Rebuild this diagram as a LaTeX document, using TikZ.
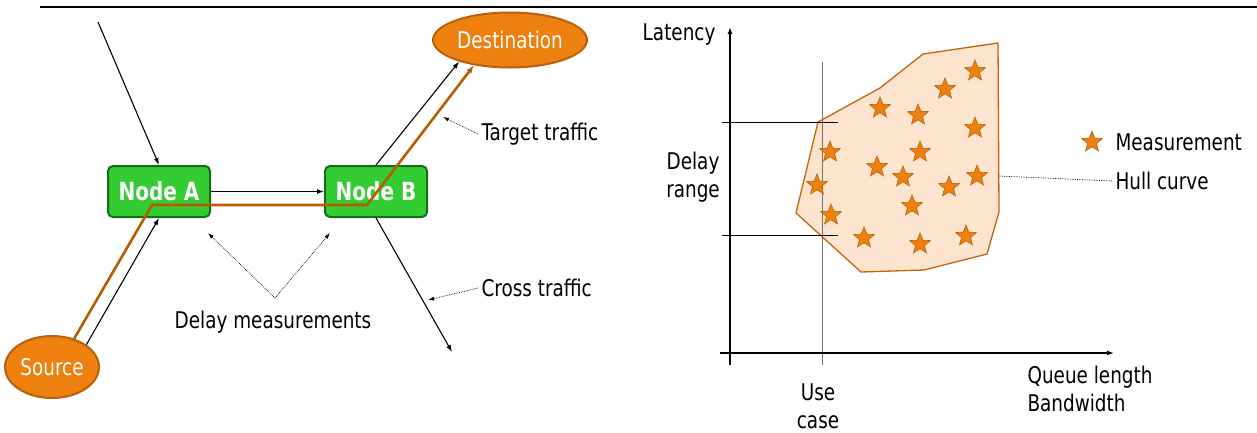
\documentclass[tikz,border=0pt]{standalone}
\usepackage{fontspec}
\setmainfont{DejaVu Sans}[FakeStretch=0.8]
\usetikzlibrary{arrows.meta,shapes.geometric}
\definecolor{nodegreen}{RGB}{51,204,51}
\definecolor{nodeedge}{RGB}{20,110,20}
\definecolor{endfill}{RGB}{238,128,16}
\definecolor{endedge}{RGB}{184,96,12}
\definecolor{pathbrown}{RGB}{184,92,0}
\definecolor{hullfill}{RGB}{252,228,206}
\definecolor{hulledge}{RGB}{196,100,10}

\begin{document}
\begin{tikzpicture}
[x=1pt,y=-1pt,
every node/.style={font=\fontsize{23}{28}\selectfont},
router/.style={draw=nodeedge,line width=2pt,fill=nodegreen,rounded corners=5pt,
  minimum width=102pt,minimum height=51pt,inner sep=0pt,text=white,
  font=\bfseries\fontsize{25}{28}\selectfont},
endpoint/.style={ellipse,draw=endedge,line width=2pt,fill=endfill,text=white,inner sep=0pt},
link/.style={-{Latex[length=7pt,width=5pt]},line width=1.1pt},
target/.style={-{Latex[length=8pt,width=6pt]},line width=2.6pt,draw=pathbrown,line join=miter},
pointer/.style={-{Latex[length=6pt,width=4pt]},densely dotted,line width=0.7pt},
meas/.style={star,star points=5,star point ratio=2.3,minimum size=22pt,inner sep=0pt,
  fill=endfill,draw=endedge,line width=0.6pt},
axis/.style={-{Latex[length=7pt,width=5pt]},line width=1.3pt},
]
\useasboundingbox (0,0) rectangle (1257,432);
\draw[line width=2pt] (40,7) -- (1257,7);

% network
\node[router] (nodeA) at (159,191.5) {Node A};
\node[router] (nodeB) at (376,191.5) {Node B};
\node[endpoint,minimum width=154pt,minimum height=55pt] (dst) at (510,40) {Destination};
\node[endpoint,minimum width=94pt,minimum height=62pt] (src) at (52,367) {Source};
\coordinate (feed) at (98,22);
\coordinate (cross) at (452,352);
\coordinate (bendA) at (152,205);
\coordinate (bendB) at (367,205);

\draw[link] (feed) -- (nodeA.north);
\draw[link] (src.33) -- (nodeA.south);
\draw[link] (nodeA.east) -- (nodeB.west);
\draw[link] (nodeB.north) -- (dst.203);
\draw[link] (nodeB.south) -- (cross);
\draw[target] (src.52) -- (bendA) -- (bendB) -- (dst.215);

% labels
\node[anchor=west] (tgt) at (478,134) {Target traffic};
\node[anchor=west] (crs) at (478,288) {Cross traffic};
\node (dly) at (273,322) {Delay measurements};
\coordinate (tgtpt) at (443,117);
\coordinate (crspt) at (428,300);
\coordinate (dlyA) at (208,233);
\coordinate (dlyB) at (330,233);
\coordinate (dlyC) at (275,298);
\draw[pointer] (tgt.west) -- (tgtpt);
\draw[pointer] (crs.west) -- (crspt);
\draw[pointer] (dlyC) -- (dlyA);
\draw[pointer] (dlyC) -- (dlyB);

% chart
\draw[fill=hullfill,draw=hulledge,line width=1.3pt] (818,122) -- (880,88) -- (923,54) -- (998,43)
  -- (999,212) -- (987,254) -- (924,270) -- (861,272) -- (796,213) -- cycle;
\coordinate (hullpt) at (999,176);
\draw[line width=1pt,black!55] (822,62) -- (822,365);
\draw[line width=0.8pt] (722,122) -- (838,122);
\draw[line width=0.8pt] (722,235) -- (838,235);
\draw[axis] (730,365) -- (730,27);
\draw[axis] (720,353) -- (1114,353);

\foreach \mx/\my [count=\i] in {975/71,945/89,880/108,918/115,975/128,830/152,920/152,
  877/167,903/177,817/185,949/187,977/176,912/206,831/215,864/238,920/244,966/236}
  \node[meas] (m\i) at (\mx,\my) {};

\node[anchor=east] (lat) at (719,35) {Latency};
\node[align=center] (rng) at (693,177) {Delay\\range};
\node[align=center] (use) at (818,406) {Use\\case};
\node[anchor=north west,align=left] (qlen) at (1024,362) {Queue length\\Bandwidth};
\node[meas] (key) at (1092,142) {};
\node[anchor=west] (keytxt) at (1112,142) {Measurement};
\node[anchor=west] (hull) at (1112,181) {Hull curve};
\draw[densely dotted,line width=0.7pt] (hullpt) -- (hull.west);
\end{tikzpicture}
\end{document}
